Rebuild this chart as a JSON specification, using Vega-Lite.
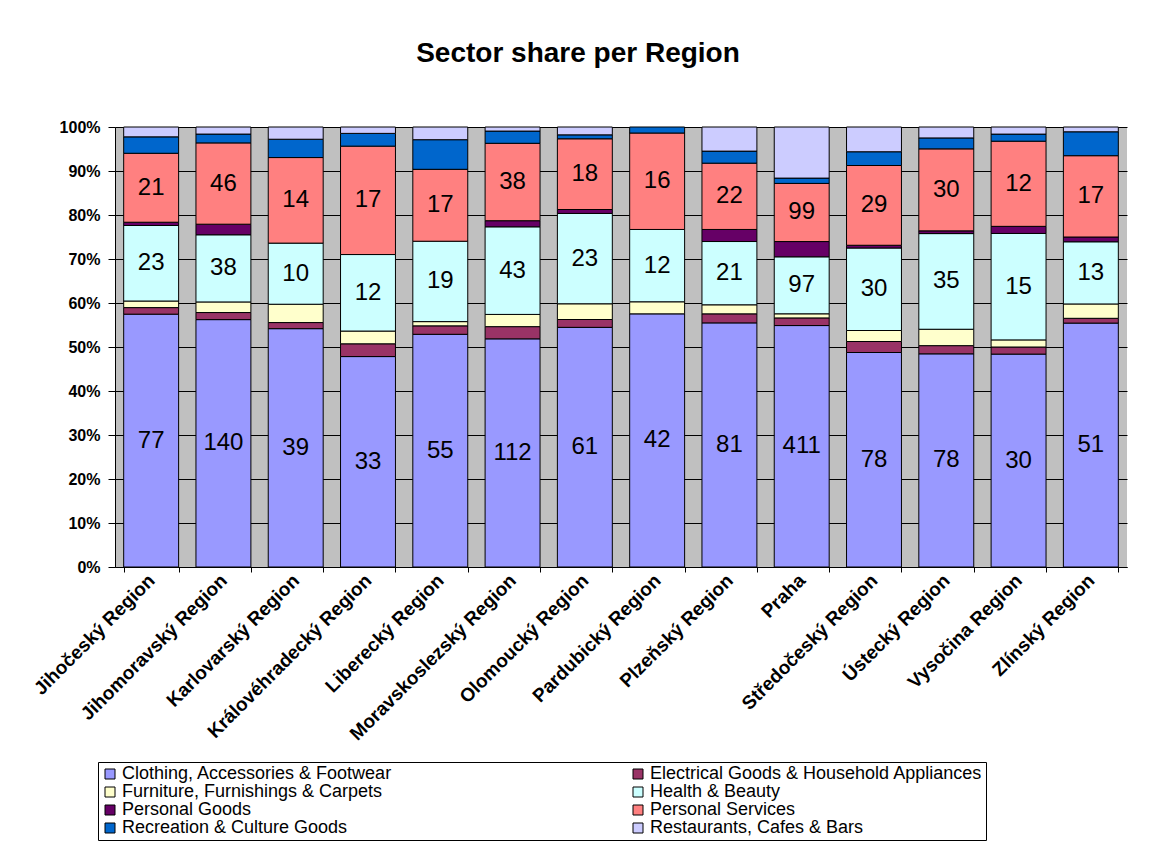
{
  "$schema": "https://vega.github.io/schema/vega-lite/v6.json",
  "width": 1012,
  "height": 440,
  "autosize": {"type": "none"},
  "padding": {"left": 115, "top": 127, "right": 22, "bottom": 283},
  "background": "white",
  "title": {"text": "Sector share per Region", "font": "Liberation Sans", "fontSize": 28, "fontWeight": "bold", "color": "black", "anchor": "middle", "frame": "group", "dx": -43, "offset": 27, "baseline": "alphabetic"},
  "config": {
    "view": {"fill": "#C0C0C0", "stroke": null},
    "font": "Liberation Sans"
  },
  "data": {"values": [
    {"region": "Jihočeský Region", "sector": "Clothing, Accessories & Footwear", "count": 77},
    {"region": "Jihočeský Region", "sector": "Electrical Goods & Household Appliances", "count": 2},
    {"region": "Jihočeský Region", "sector": "Furniture, Furnishings & Carpets", "count": 2},
    {"region": "Jihočeský Region", "sector": "Health & Beauty", "count": 23},
    {"region": "Jihočeský Region", "sector": "Personal Goods", "count": 1},
    {"region": "Jihočeský Region", "sector": "Personal Services", "count": 21},
    {"region": "Jihočeský Region", "sector": "Recreation & Culture Goods", "count": 5},
    {"region": "Jihočeský Region", "sector": "Restaurants, Cafes & Bars", "count": 3},
    {"region": "Jihomoravský Region", "sector": "Clothing, Accessories & Footwear", "count": 140},
    {"region": "Jihomoravský Region", "sector": "Electrical Goods & Household Appliances", "count": 4},
    {"region": "Jihomoravský Region", "sector": "Furniture, Furnishings & Carpets", "count": 6},
    {"region": "Jihomoravský Region", "sector": "Health & Beauty", "count": 38},
    {"region": "Jihomoravský Region", "sector": "Personal Goods", "count": 6},
    {"region": "Jihomoravský Region", "sector": "Personal Services", "count": 46},
    {"region": "Jihomoravský Region", "sector": "Recreation & Culture Goods", "count": 5},
    {"region": "Jihomoravský Region", "sector": "Restaurants, Cafes & Bars", "count": 4},
    {"region": "Karlovarský Region", "sector": "Clothing, Accessories & Footwear", "count": 39},
    {"region": "Karlovarský Region", "sector": "Electrical Goods & Household Appliances", "count": 1},
    {"region": "Karlovarský Region", "sector": "Furniture, Furnishings & Carpets", "count": 3},
    {"region": "Karlovarský Region", "sector": "Health & Beauty", "count": 10},
    {"region": "Karlovarský Region", "sector": "Personal Services", "count": 14},
    {"region": "Karlovarský Region", "sector": "Recreation & Culture Goods", "count": 3},
    {"region": "Karlovarský Region", "sector": "Restaurants, Cafes & Bars", "count": 2},
    {"region": "Královéhradecký Region", "sector": "Clothing, Accessories & Footwear", "count": 33},
    {"region": "Královéhradecký Region", "sector": "Electrical Goods & Household Appliances", "count": 2},
    {"region": "Královéhradecký Region", "sector": "Furniture, Furnishings & Carpets", "count": 2},
    {"region": "Královéhradecký Region", "sector": "Health & Beauty", "count": 12},
    {"region": "Královéhradecký Region", "sector": "Personal Services", "count": 17},
    {"region": "Královéhradecký Region", "sector": "Recreation & Culture Goods", "count": 2},
    {"region": "Královéhradecký Region", "sector": "Restaurants, Cafes & Bars", "count": 1},
    {"region": "Liberecký Region", "sector": "Clothing, Accessories & Footwear", "count": 55},
    {"region": "Liberecký Region", "sector": "Electrical Goods & Household Appliances", "count": 2},
    {"region": "Liberecký Region", "sector": "Furniture, Furnishings & Carpets", "count": 1},
    {"region": "Liberecký Region", "sector": "Health & Beauty", "count": 19},
    {"region": "Liberecký Region", "sector": "Personal Services", "count": 17},
    {"region": "Liberecký Region", "sector": "Recreation & Culture Goods", "count": 7},
    {"region": "Liberecký Region", "sector": "Restaurants, Cafes & Bars", "count": 3},
    {"region": "Moravskoslezský Region", "sector": "Clothing, Accessories & Footwear", "count": 112},
    {"region": "Moravskoslezský Region", "sector": "Electrical Goods & Household Appliances", "count": 6},
    {"region": "Moravskoslezský Region", "sector": "Furniture, Furnishings & Carpets", "count": 6},
    {"region": "Moravskoslezský Region", "sector": "Health & Beauty", "count": 43},
    {"region": "Moravskoslezský Region", "sector": "Personal Goods", "count": 3},
    {"region": "Moravskoslezský Region", "sector": "Personal Services", "count": 38},
    {"region": "Moravskoslezský Region", "sector": "Recreation & Culture Goods", "count": 6},
    {"region": "Moravskoslezský Region", "sector": "Restaurants, Cafes & Bars", "count": 2},
    {"region": "Olomoucký Region", "sector": "Clothing, Accessories & Footwear", "count": 61},
    {"region": "Olomoucký Region", "sector": "Electrical Goods & Household Appliances", "count": 2},
    {"region": "Olomoucký Region", "sector": "Furniture, Furnishings & Carpets", "count": 4},
    {"region": "Olomoucký Region", "sector": "Health & Beauty", "count": 23},
    {"region": "Olomoucký Region", "sector": "Personal Goods", "count": 1},
    {"region": "Olomoucký Region", "sector": "Personal Services", "count": 18},
    {"region": "Olomoucký Region", "sector": "Recreation & Culture Goods", "count": 1},
    {"region": "Olomoucký Region", "sector": "Restaurants, Cafes & Bars", "count": 2},
    {"region": "Pardubický Region", "sector": "Clothing, Accessories & Footwear", "count": 42},
    {"region": "Pardubický Region", "sector": "Furniture, Furnishings & Carpets", "count": 2},
    {"region": "Pardubický Region", "sector": "Health & Beauty", "count": 12},
    {"region": "Pardubický Region", "sector": "Personal Services", "count": 16},
    {"region": "Pardubický Region", "sector": "Recreation & Culture Goods", "count": 1},
    {"region": "Plzeňský Region", "sector": "Clothing, Accessories & Footwear", "count": 81},
    {"region": "Plzeňský Region", "sector": "Electrical Goods & Household Appliances", "count": 3},
    {"region": "Plzeňský Region", "sector": "Furniture, Furnishings & Carpets", "count": 3},
    {"region": "Plzeňský Region", "sector": "Health & Beauty", "count": 21},
    {"region": "Plzeňský Region", "sector": "Personal Goods", "count": 4},
    {"region": "Plzeňský Region", "sector": "Personal Services", "count": 22},
    {"region": "Plzeňský Region", "sector": "Recreation & Culture Goods", "count": 4},
    {"region": "Plzeňský Region", "sector": "Restaurants, Cafes & Bars", "count": 8},
    {"region": "Praha", "sector": "Clothing, Accessories & Footwear", "count": 411},
    {"region": "Praha", "sector": "Electrical Goods & Household Appliances", "count": 13},
    {"region": "Praha", "sector": "Furniture, Furnishings & Carpets", "count": 7},
    {"region": "Praha", "sector": "Health & Beauty", "count": 97},
    {"region": "Praha", "sector": "Personal Goods", "count": 26},
    {"region": "Praha", "sector": "Personal Services", "count": 99},
    {"region": "Praha", "sector": "Recreation & Culture Goods", "count": 9},
    {"region": "Praha", "sector": "Restaurants, Cafes & Bars", "count": 87},
    {"region": "Středočeský Region", "sector": "Clothing, Accessories & Footwear", "count": 78},
    {"region": "Středočeský Region", "sector": "Electrical Goods & Household Appliances", "count": 4},
    {"region": "Středočeský Region", "sector": "Furniture, Furnishings & Carpets", "count": 4},
    {"region": "Středočeský Region", "sector": "Health & Beauty", "count": 30},
    {"region": "Středočeský Region", "sector": "Personal Goods", "count": 1},
    {"region": "Středočeský Region", "sector": "Personal Services", "count": 29},
    {"region": "Středočeský Region", "sector": "Recreation & Culture Goods", "count": 5},
    {"region": "Středočeský Region", "sector": "Restaurants, Cafes & Bars", "count": 9},
    {"region": "Ústecký Region", "sector": "Clothing, Accessories & Footwear", "count": 78},
    {"region": "Ústecký Region", "sector": "Electrical Goods & Household Appliances", "count": 3},
    {"region": "Ústecký Region", "sector": "Furniture, Furnishings & Carpets", "count": 6},
    {"region": "Ústecký Region", "sector": "Health & Beauty", "count": 35},
    {"region": "Ústecký Region", "sector": "Personal Goods", "count": 1},
    {"region": "Ústecký Region", "sector": "Personal Services", "count": 30},
    {"region": "Ústecký Region", "sector": "Recreation & Culture Goods", "count": 4},
    {"region": "Ústecký Region", "sector": "Restaurants, Cafes & Bars", "count": 4},
    {"region": "Vysočina Region", "sector": "Clothing, Accessories & Footwear", "count": 30},
    {"region": "Vysočina Region", "sector": "Electrical Goods & Household Appliances", "count": 1},
    {"region": "Vysočina Region", "sector": "Furniture, Furnishings & Carpets", "count": 1},
    {"region": "Vysočina Region", "sector": "Health & Beauty", "count": 15},
    {"region": "Vysočina Region", "sector": "Personal Goods", "count": 1},
    {"region": "Vysočina Region", "sector": "Personal Services", "count": 12},
    {"region": "Vysočina Region", "sector": "Recreation & Culture Goods", "count": 1},
    {"region": "Vysočina Region", "sector": "Restaurants, Cafes & Bars", "count": 1},
    {"region": "Zlínský Region", "sector": "Clothing, Accessories & Footwear", "count": 51},
    {"region": "Zlínský Region", "sector": "Electrical Goods & Household Appliances", "count": 1},
    {"region": "Zlínský Region", "sector": "Furniture, Furnishings & Carpets", "count": 3},
    {"region": "Zlínský Region", "sector": "Health & Beauty", "count": 13},
    {"region": "Zlínský Region", "sector": "Personal Goods", "count": 1},
    {"region": "Zlínský Region", "sector": "Personal Services", "count": 17},
    {"region": "Zlínský Region", "sector": "Recreation & Culture Goods", "count": 5},
    {"region": "Zlínský Region", "sector": "Restaurants, Cafes & Bars", "count": 1}
  ]},
  "encoding": {
    "x": {
      "field": "region", "type": "nominal", "sort": null,
      "scale": {"paddingInner": 0.24, "paddingOuter": 0.12},
      "axis": {"title": null, "labelAngle": -45, "labelAlign": "right", "labelBaseline": "middle", "labelFont": "Liberation Sans", "labelFontSize": 19, "labelFontWeight": "bold", "labelColor": "black", "tickBand": "extent", "tickColor": "black", "tickSize": 5, "domainColor": "black", "labelPadding": 5, "labelLimit": 400}
    },
    "order": {"field": "sector", "type": "ordinal", "sort": "ascending"}
  },
  "layer": [
    {
      "mark": {"type": "bar", "stroke": "black", "strokeWidth": 1},
      "encoding": {
        "y": {
          "field": "count", "type": "quantitative", "stack": "normalize",
          "axis": {"title": null, "values": [0, 0.1, 0.2, 0.3, 0.4, 0.5, 0.6, 0.7, 0.8, 0.9, 1], "format": ".0%", "labelFont": "Liberation Sans", "labelFontSize": 16, "labelFontWeight": "bold", "labelColor": "black", "tickColor": "black", "tickSize": 7, "labelPadding": 8, "domainColor": "black", "grid": true, "gridColor": "black", "gridOpacity": 1}
        },
        "color": {
          "field": "sector", "type": "nominal",
          "scale": {
            "domain": ["Clothing, Accessories & Footwear", "Furniture, Furnishings & Carpets", "Personal Goods", "Recreation & Culture Goods", "Electrical Goods & Household Appliances", "Health & Beauty", "Personal Services", "Restaurants, Cafes & Bars"],
            "range": ["#9999FF", "#FFFFCC", "#660066", "#0066CC", "#993366", "#CCFFFF", "#FF8080", "#CCCCFF"]
          },
          "legend": {"title": null, "orient": "none", "legendX": -17, "legendY": 635, "columns": 2, "columnPadding": 236, "rowPadding": 0, "padding": 3, "strokeColor": "black", "fillColor": "white", "labelFont": "Liberation Sans", "labelFontSize": 18, "labelColor": "black", "labelLimit": 600, "labelOffset": 3, "symbolType": "square", "symbolSize": 100, "symbolStrokeColor": "black", "symbolStrokeWidth": 1}
        }
      }
    },
    {
      "mark": {"type": "text", "font": "Liberation Sans", "fontSize": 24, "color": "black"},
      "encoding": {
        "y": {"field": "count", "type": "quantitative", "stack": "normalize", "bandPosition": 0.5},
        "detail": {"field": "sector", "type": "nominal"},
        "text": {
          "condition": {"test": "datum.sector === 'Clothing, Accessories & Footwear' || datum.sector === 'Health & Beauty' || datum.sector === 'Personal Services'", "field": "count", "type": "quantitative"},
          "value": ""
        }
      }
    }
  ]
}
